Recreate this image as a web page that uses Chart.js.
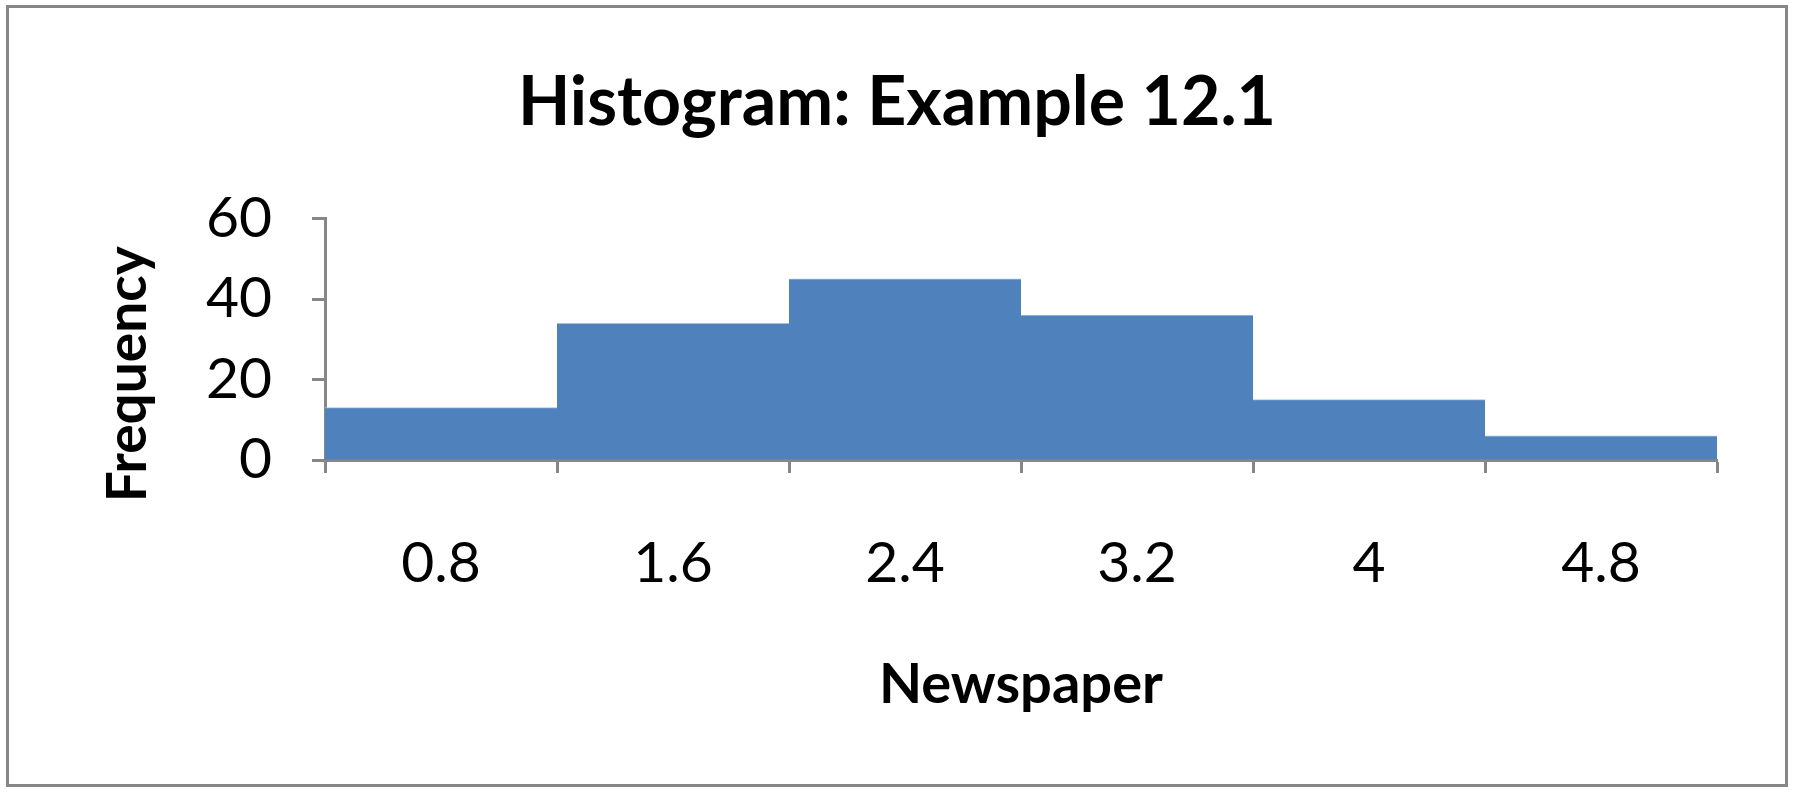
<!DOCTYPE html>
<html>
<head>
<meta charset="utf-8">
<script src="https://cdn.jsdelivr.net/npm/chart.js@4"></script>
<style>
  html, body { margin: 0; padding: 0; background: #fff; }
  #wrap { width: 1794px; height: 792px; }
</style>
</head>
<body>
<div id="wrap"><canvas id="grafico"></canvas></div>
<script>
const categorias = ["0.8", "1.6", "2.4", "3.2", "4", "4.8"];
const frequencias = [13, 34, 45, 36, 15, 6];
const ticksY = [0, 20, 40, 60];

const fonte = "Lato, 'Open Sans', sans-serif";
const cinza = "#878787";

// moldura externa + titulo do eixo Y (centrado um pouco abaixo, como no original)
const extras = {
    id: "extras",
    beforeDraw(chart) {
        const ctx = chart.ctx;
        ctx.save();
        ctx.fillStyle = "#fff";
        ctx.fillRect(0, 0, chart.width, chart.height);
        ctx.strokeStyle = cinza;
        ctx.lineWidth = 3;
        ctx.strokeRect(7.5, 6.5, chart.width - 15, chart.height - 13);
        ctx.restore();
    },
    afterDraw(chart) {
        const ctx = chart.ctx;
        const area = chart.chartArea;
        ctx.save();
        ctx.translate(128, (area.top + area.bottom) / 2 + 35);
        ctx.rotate(-Math.PI / 2);
        ctx.font = "bold 55px " + fonte;
        ctx.fillStyle = "#000";
        ctx.textAlign = "center";
        ctx.textBaseline = "middle";
        ctx.fillText("Frequency", 0, 0);
        ctx.restore();
    }
};

new Chart(document.getElementById("grafico"), {
    type: "bar",
    data: {
        labels: categorias,
        datasets: [{
            label: "Frequency",
            data: frequencias,
            backgroundColor: "#4F81BD",
            borderColor: "#A9C0DF",
            borderWidth: { top: 1, left: 0, right: 0, bottom: 0 },
            borderSkipped: "bottom",
            barPercentage: 1,
            categoryPercentage: 1
        }]
    },
    options: {
        responsive: true,
        maintainAspectRatio: false,
        animation: false,
        devicePixelRatio: 1,
        layout: { padding: 0 },
        plugins: {
            legend: { display: false },
            tooltip: { enabled: false },
            title: {
                display: true,
                text: "Histogram: Example 12.1",
                color: "#000",
                font: { family: fonte, size: 68, weight: "bold", lineHeight: 1.2 },
                padding: { top: 62, bottom: 75 }
            }
        },
        scales: {
            x: {
                grid: {
                    display: true,
                    offset: true,
                    drawOnChartArea: false,
                    drawTicks: true,
                    tickLength: 13,
                    tickWidth: 3,
                    tickColor: cinza,
                    color: cinza
                },
                border: { display: true, color: cinza, width: 3 },
                ticks: {
                    color: "#000",
                    padding: 56,
                    maxRotation: 0,
                    font: { family: fonte, size: 57 }
                },
                title: {
                    display: true,
                    text: "Newspaper",
                    color: "#000",
                    font: { family: fonte, size: 56, weight: "bold", lineHeight: 1.2 },
                    padding: { top: 0, bottom: 73 }
                },
                afterFit(scale) { scale.height = 332; }
            },
            y: {
                min: 0,
                max: 60,
                afterBuildTicks(scale) {
                    scale.ticks = ticksY.map(v => ({ value: v }));
                },
                grid: {
                    display: true,
                    drawOnChartArea: false,
                    drawTicks: true,
                    tickLength: 13,
                    tickWidth: 3,
                    tickColor: cinza,
                    color: cinza
                },
                border: { display: true, color: cinza, width: 3 },
                ticks: {
                    color: "#000",
                    padding: 40,
                    font: { family: fonte, size: 57 }
                },
                afterFit(scale) { scale.width = 325; }
            },
            // eixo vazio a direita so para reservar a margem e centrar o titulo
            margem: {
                position: "right",
                display: true,
                grid: { display: false },
                border: { display: false },
                ticks: { display: false },
                afterFit(scale) { scale.width = 77; }
            }
        }
    },
    plugins: [extras]
});
</script>
</body>
</html>
